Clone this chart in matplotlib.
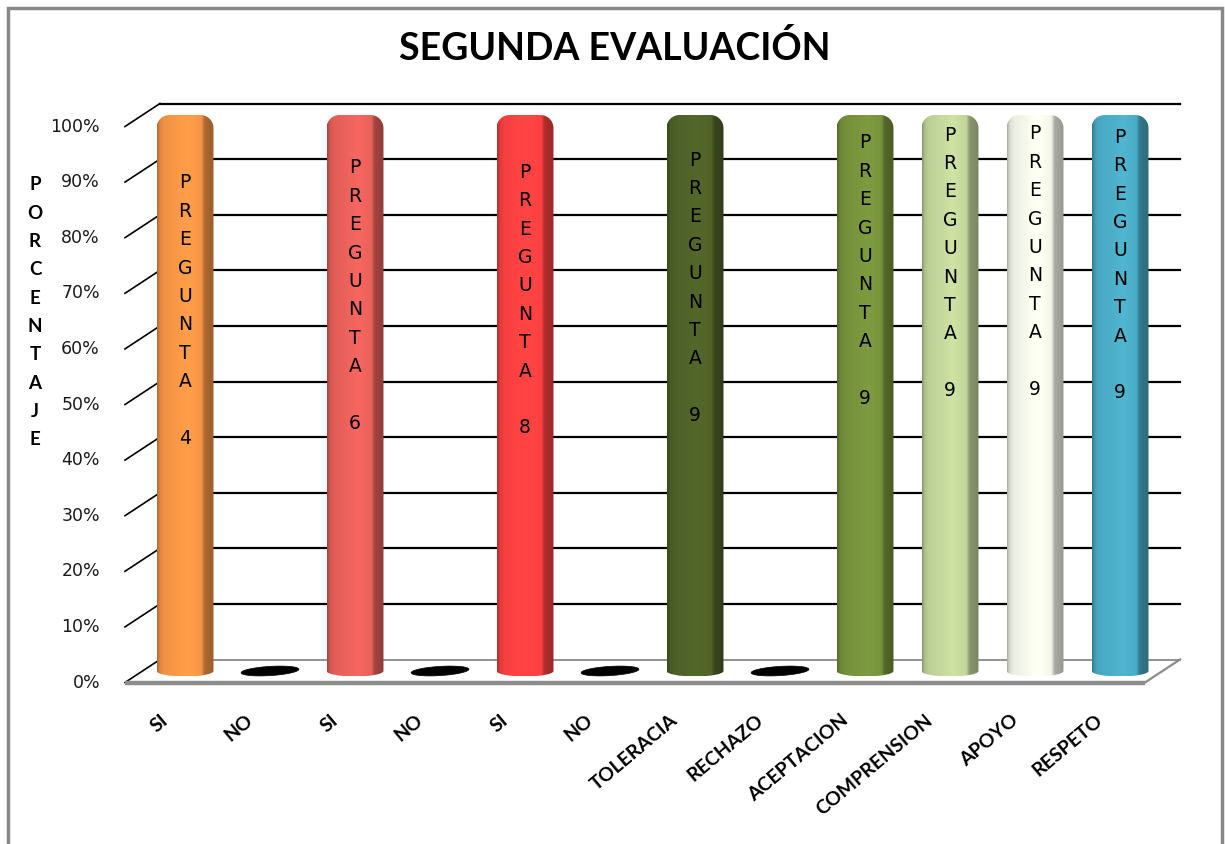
import numpy as np
import matplotlib
matplotlib.use("Agg")
import matplotlib.pyplot as plt
from matplotlib.path import Path
from matplotlib.patches import PathPatch, Polygon, Rectangle
from matplotlib.colors import to_rgb

# ---------------- data ----------------
categories = ["SI", "NO", "SI", "NO", "SI", "NO", "TOLERACIA", "RECHAZO",
              "ACEPTACION", "COMPRENSION", "APOYO", "RESPETO"]
values = [100, 0, 100, 0, 100, 0, 100, 0, 100, 100, 100, 100]
bar_colors = ["#F79646", "#000000", "#E9615A", "#000000", "#FA4141", "#000000",
              "#4F6228", "#000000", "#77933C", "#C3D69B", "#F2F5E8", "#4BACC6"]
bar_numbers = ["4", "", "6", "", "8", "", "9", "", "9", "9", "9", "9"]
label_top = [87.8, 0, 90.5, 0, 89.7, 0, 91.9, 0, 95.0, 96.4, 96.6, 96.0]
yticks = [0, 10, 20, 30, 40, 50, 60, 70, 80, 90, 100]
ytick_labels = [f"{v}%" for v in yticks]
title = "SEGUNDA EVALUACIÓN"
ylabel = "PORCENTAJE"
word = "PREGUNTA"

FONT = "Lato"
WIDE = "DejaVu Sans"
W, H = 1225, 844
fig = plt.figure(figsize=(W / 100, H / 100), dpi=100)
fig.patch.set_facecolor("white")

# axes: x category i -> pixel 185+85*i ; y 0 -> 671, 100 -> 115 (mid depth)
ax = fig.add_axes([100 / W, (H - 698.8) / H, 1105 / W, (698.8 - 87.2) / H])
ax.set_xlim(-1, 12)
ax.set_ylim(-5, 105)
ax.axis("off")

px_x = 85.0               # pixels per category unit
px_y = (698.8 - 87.2) / 110.0  # pixels per percent
DX = 17.5 / px_x          # depth offset (half) in data units
DY = 11.5 / px_y
x0, x1 = -0.5, 11.5

# back-wall gridlines + left diagonals
for v in yticks:
    if v == 0:
        ax.plot([x0 + DX, x1 + DX], [v + DY, v + DY], color="#7f7f7f", lw=1.2, zorder=1)
    else:
        ax.plot([x0 + DX, x1 + DX], [v + DY, v + DY], color="black", lw=1.6, zorder=1)
    ax.plot([x0 - DX, x0 + DX], [v - DY, v + DY], color="black", lw=1.2, zorder=1)

# floor front edge and right diagonal
ax.plot([x0 - DX, x1 - DX], [-DY, -DY], color="#8c8c8c", lw=3.2, zorder=1,
        solid_capstyle="butt")
ax.plot([x1 - DX, x1 + DX], [-DY, DY], color="#8c8c8c", lw=1.6, zorder=1)

# y tick labels at front
for v, lab in zip(yticks, ytick_labels):
    ax.annotate(lab, xy=(x0 - DX, v - DY), xytext=(-18, 0), textcoords="offset points",
                ha="right", va="center", fontsize=12.5, family=WIDE, color="#1a1a1a")

# profile for cylinder shading
def shade_profile(n=200):
    t = np.linspace(0, 1, n)
    pts_t = [0.0, 0.05, 0.12, 0.55, 0.78, 0.84, 1.0]
    pts_f = [0.70, 0.90, 0.97, 1.06, 1.00, 0.70, 0.62]
    return np.interp(t, pts_t, pts_f)

half_w = 0.335
rx = 13 / px_x
ry = 13 / px_y
be = 5.5 / px_y
prof = shade_profile()

for i, (v, c) in enumerate(zip(values, bar_colors)):
    if v == 0:
        # flat, slightly slanted disc for a zero-height cylinder
        t = np.linspace(0, 2 * np.pi, 80)
        a = 0.34
        b = 4.6 / px_y
        slope = 0.06 * px_x / px_y
        xs = i + a * np.cos(t)
        ys = v + b * np.sin(t) + slope * a * np.cos(t)
        ax.add_patch(Polygon(np.column_stack([xs, ys]), closed=True,
                             facecolor="black", edgecolor="black", lw=0.5, zorder=3))
        continue
    xl, xr = i - half_w, i + half_w
    k = 0.5523
    verts = [
        (xl, 0), (xl, v - ry),
        (xl, v - ry + k * ry), (xl + rx - k * rx, v), (xl + rx, v),
        (xr - rx, v),
        (xr - rx + k * rx, v), (xr, v - ry + k * ry), (xr, v - ry),
        (xr, 0),
        (xr, -k * be), (i + half_w * k, -be), (i, -be),
        (i - half_w * k, -be), (xl, -k * be), (xl, 0),
        (xl, 0),
    ]
    codes = [Path.MOVETO, Path.LINETO,
             Path.CURVE4, Path.CURVE4, Path.CURVE4,
             Path.LINETO,
             Path.CURVE4, Path.CURVE4, Path.CURVE4,
             Path.LINETO,
             Path.CURVE4, Path.CURVE4, Path.CURVE4,
             Path.CURVE4, Path.CURVE4, Path.CURVE4,
             Path.CLOSEPOLY]
    patch = PathPatch(Path(verts, codes), facecolor="none", edgecolor="none", zorder=3)
    ax.add_patch(patch)
    base = np.array(to_rgb(c))
    img = np.clip(prof[None, :, None] * base[None, None, :], 0, 1)
    img = np.repeat(img, 2, axis=0)
    im = ax.imshow(img, extent=(xl, xr, -be, v), aspect="auto", zorder=3,
                   interpolation="bilinear", origin="upper")
    im.set_clip_path(patch)

    # vertical text inside bar
    letters = list(word) + ["", bar_numbers[i]]
    for k2, ch in enumerate(letters):
        if ch:
            ax.annotate(ch, xy=(i, label_top[i]), xytext=(0, -k2 * 20.45),
                        textcoords="offset points", ha="center", va="center",
                        fontsize=13.5, family=WIDE, color="black", zorder=5)

# x labels
for i, lab in enumerate(categories):
    ax.annotate(lab, xy=(i, 0), xytext=(-14, -34), textcoords="offset points",
                ha="right", va="center", rotation=40, rotation_mode="anchor",
                fontsize=14, family=FONT, fontweight="bold", color="black")

ax.set_xlim(-1, 12)
ax.set_ylim(-5, 105)

# title
fig.text(615 / W, (H - 48) / H, title, ha="center", va="center", fontsize=27,
         family=FONT, fontweight="bold", color="black")

# vertical y label
for k2, ch in enumerate(ylabel):
    fig.text(35 / W, (H - (185 + k2 * 28.3)) / H, ch, ha="center", va="center",
             fontsize=13.5, family=FONT, fontweight="bold", color="black")

# chart border
fig.patches.append(Rectangle((8 / W, -0.1), (1222 - 8) / W, (H - 8) / H + 0.1,
                             transform=fig.transFigure, fill=False,
                             edgecolor="#888888", lw=2.5))

fig.savefig("out.png", dpi=100)
